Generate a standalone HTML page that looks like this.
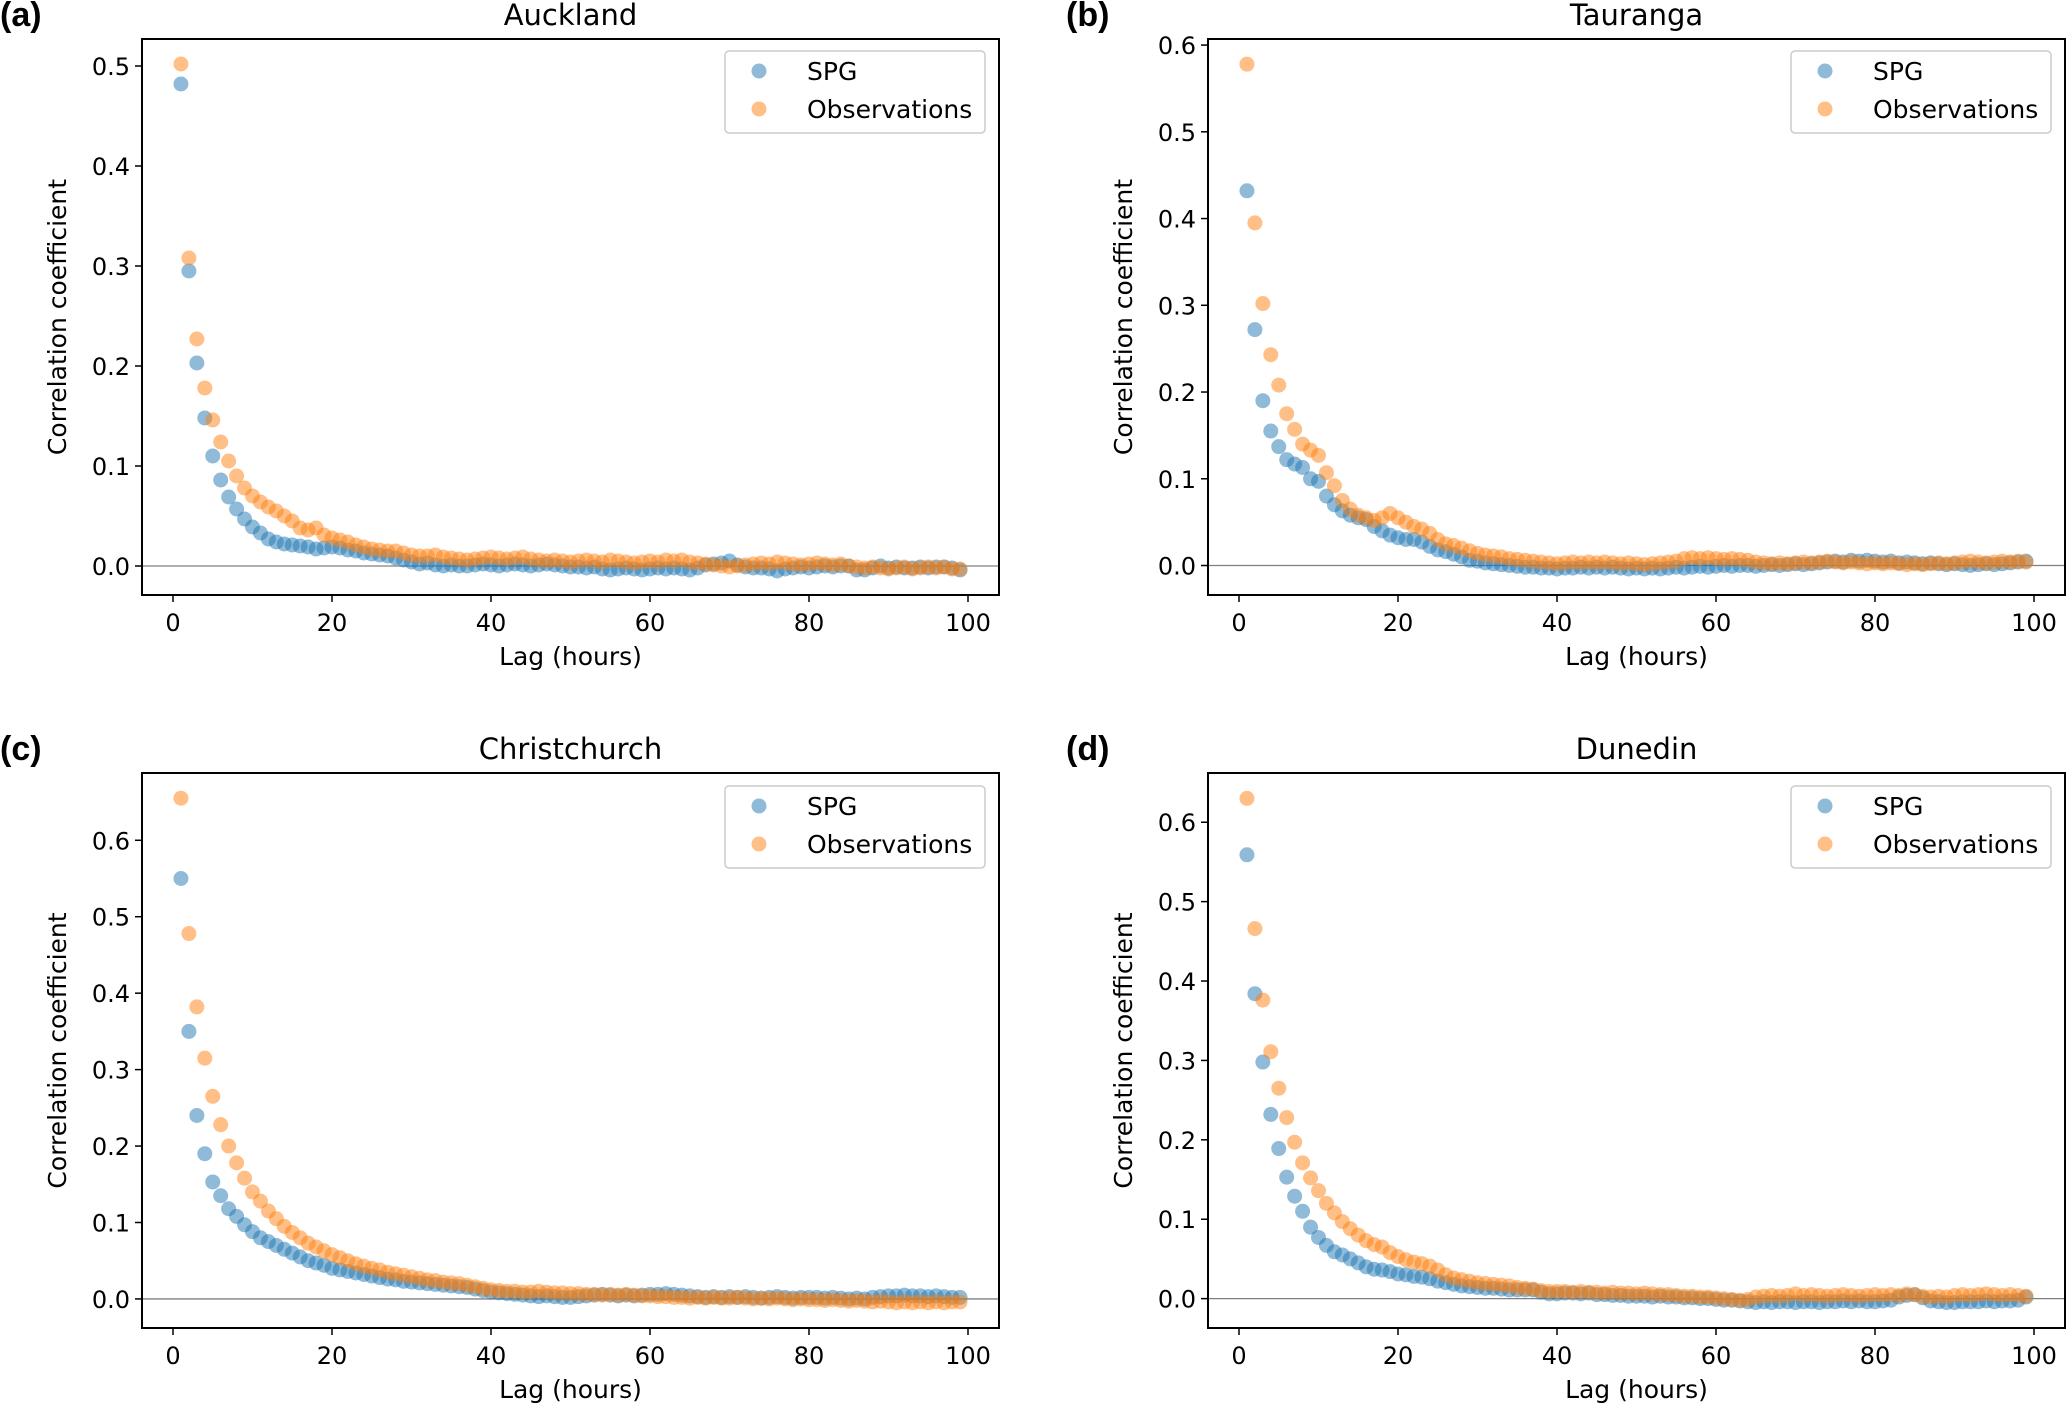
<!DOCTYPE html>
<html><head><meta charset="utf-8"><style>
html,body{margin:0;padding:0;background:#fff;}
svg{display:block;font-family:"DejaVu Sans","Liberation Sans",sans-serif;}
</style></head><body>
<svg id="fig" width="2067" height="1407" viewBox="0 0 2067 1407"></svg>
<script>
const lags = Array.from({length:99},(_,i)=>i+1);
const xTicks = [0,20,40,60,80,100];
const yTicksA = [0,0.1,0.2,0.3,0.4,0.5];
const yTicksB = [0,0.1,0.2,0.3,0.4,0.5,0.6];
const titles = ["Auckland","Tauranga","Christchurch","Dunedin"];
const panelLabels = ["(a)","(b)","(c)","(d)"];
const seriesNames = ["SPG","Observations"];
const spgA = [0.482,0.295,0.203,0.148,0.110,0.086,0.069,0.057,0.047,0.039,0.033,0.027,0.024,0.022,0.021,0.020,0.019,0.017,0.018,0.019,0.018,0.016,0.015,0.013,0.012,0.011,0.010,0.008,0.006,0.004,0.002,
0.003,0.001,0.000,0.001,0.000,0.000,0.001,0.002,0.001,0.000,0.001,0.002,0.001,0.000,0.001,0.002,0.001,0.000,-0.001,
-0.001,-0.002,-0.001,-0.003,-0.004,-0.003,-0.002,-0.003,-0.004,-0.003,-0.002,-0.003,-0.002,-0.003,-0.004,-0.002,0.001,0.002,0.003,0.005,
0.001,-0.001,-0.002,-0.002,-0.003,-0.005,-0.003,-0.002,-0.001,-0.002,-0.001,0.000,-0.001,0.000,0.000,
-0.004,-0.004,-0.002,0.000,-0.002,-0.001,-0.002,-0.002,-0.001,-0.002,-0.001,-0.001,-0.002,-0.004];
const obsA = [0.502,0.308,0.227,0.178,0.146,0.124,0.105,0.090,0.078,0.070,0.064,0.059,0.055,0.050,0.045,0.038,0.036,0.038,0.031,0.028,0.026,0.024,0.021,0.019,0.017,0.016,0.015,0.015,0.013,0.011,0.010,0.010,0.011,0.009,0.008,0.007,
0.006,0.007,0.008,0.009,0.008,0.007,0.008,0.009,0.007,0.006,0.005,0.006,0.005,0.004,
0.005,0.006,0.005,0.004,0.006,0.005,0.004,0.003,0.004,0.005,0.004,0.006,0.005,0.006,0.004,0.003,
0.002,0.001,0.000,-0.001,0.000,0.001,0.002,0.003,0.002,0.004,0.003,0.002,0.001,0.002,0.003,0.002,0.001,0.002,0.000,
-0.001,-0.002,-0.001,-0.002,-0.003,-0.002,-0.001,-0.003,-0.002,-0.001,-0.002,-0.001,-0.003,-0.003];
const spgB = [0.432,0.272,0.190,0.155,0.137,0.122,0.117,0.113,0.100,0.097,0.080,0.070,0.063,0.058,0.055,0.053,0.045,0.040,0.035,0.032,0.030,0.030,0.027,0.022,0.018,0.016,0.013,0.010,0.006,0.005,
0.003,0.002,0.001,0.000,-0.001,-0.002,-0.002,-0.003,-0.003,-0.004,-0.003,-0.003,-0.002,-0.003,-0.002,-0.003,-0.002,-0.003,-0.004,-0.003,-0.004,-0.003,-0.004,-0.003,-0.002,-0.003,-0.002,-0.001,-0.002,-0.001,
0.000,-0.001,0.000,0.000,-0.001,0.000,0.001,0.000,0.001,0.002,0.001,0.002,0.003,0.004,0.005,0.004,0.006,0.005,0.006,0.005,
0.004,0.005,0.003,0.004,0.003,0.002,0.003,0.002,0.001,0.002,0.001,0.000,0.001,0.002,0.001,0.002,0.003,0.004,0.005];
const obsB = [0.578,0.395,0.302,0.243,0.208,0.175,0.157,0.140,0.133,0.127,0.107,0.092,0.075,0.065,0.058,0.055,0.052,0.055,0.060,0.055,0.050,0.045,0.042,0.037,0.030,0.025,0.023,0.020,0.017,0.014,0.012,0.011,0.010,0.008,0.007,
0.006,0.005,0.004,0.003,0.002,0.003,0.004,0.003,0.004,0.003,0.004,0.003,0.002,0.003,0.002,0.001,0.002,0.003,0.004,0.005,
0.008,0.009,0.008,0.009,0.008,0.007,0.008,0.007,0.006,0.004,
0.003,0.002,0.003,0.002,0.003,0.004,0.003,0.004,0.005,0.004,0.003,0.004,0.003,0.002,0.003,0.002,0.003,0.002,0.001,0.002,0.001,0.002,0.003,0.002,0.003,0.004,0.005,0.004,0.003,0.004,0.005,0.004,0.005,0.004];
const spgC = [0.550,0.350,0.240,0.190,0.153,0.135,0.118,0.108,0.097,0.088,0.080,0.075,0.070,0.065,0.060,0.055,0.050,0.047,0.044,0.040,0.038,0.036,0.034,0.032,0.030,0.028,0.026,0.025,0.023,0.022,0.021,0.020,0.019,0.018,0.017,0.016,0.015,0.013,0.011,0.009,
0.008,0.007,0.006,0.005,0.004,0.003,0.004,0.003,0.002,0.002,0.003,0.004,0.005,0.006,0.005,0.004,0.005,0.004,0.005,0.006,
0.006,0.007,0.006,0.005,0.004,0.003,0.002,0.003,0.002,0.003,0.002,0.003,0.002,0.001,0.002,0.003,0.002,0.001,0.002,0.002,
0.002,0.001,0.002,0.001,0.000,0.001,0.000,0.002,0.003,0.004,0.004,0.005,0.004,0.004,0.003,0.004,0.003,0.002,0.002];
const obsC = [0.655,0.478,0.382,0.315,0.265,0.228,0.200,0.178,0.158,0.140,0.128,0.115,0.105,0.095,0.087,0.080,0.073,0.068,0.063,0.058,0.054,0.050,0.046,0.043,0.040,0.038,0.035,0.033,0.031,0.029,0.027,0.025,0.024,0.022,0.021,0.020,0.018,0.016,0.014,0.012,
0.011,0.010,0.010,0.009,0.009,0.010,0.009,0.008,0.008,0.007,0.007,0.006,0.006,0.005,0.006,0.005,0.006,0.005,0.004,0.004,
0.003,0.003,0.002,0.002,0.001,0.002,0.001,0.002,0.001,0.001,0.002,0.001,0.000,0.001,0.000,0.001,0.000,-0.001,0.000,-0.001,
-0.001,-0.002,-0.001,-0.002,-0.003,-0.002,-0.003,-0.004,-0.003,-0.004,-0.005,-0.004,-0.005,-0.004,-0.005,-0.004,-0.005,-0.004,-0.004];
const spgD = [0.559,0.384,0.298,0.232,0.189,0.153,0.129,0.110,0.090,0.077,0.067,0.059,0.055,0.050,0.045,0.040,0.037,0.036,0.034,0.031,0.030,0.028,0.027,0.025,0.022,0.020,0.018,0.016,0.015,0.014,0.013,0.013,0.012,0.011,0.011,0.011,0.011,0.008,0.006,0.006,
0.007,0.007,0.006,0.007,0.005,0.005,0.004,0.004,0.003,0.003,0.003,0.002,0.003,0.002,0.002,0.001,0.001,0.000,0.000,-0.001,
-0.002,-0.002,-0.003,-0.004,-0.005,-0.004,-0.005,-0.004,-0.004,-0.005,-0.004,-0.004,-0.005,-0.004,-0.004,-0.003,-0.004,-0.003,-0.004,-0.004,
-0.003,-0.002,0.002,0.004,0.005,0.001,-0.003,-0.004,-0.005,-0.005,-0.004,-0.004,-0.004,-0.003,-0.004,-0.003,-0.003,-0.002,0.002];
const obsD = [0.630,0.466,0.376,0.311,0.265,0.228,0.197,0.171,0.152,0.136,0.120,0.108,0.097,0.088,0.080,0.073,0.068,0.065,0.058,0.053,0.049,0.046,0.044,0.041,0.036,0.030,0.026,0.024,0.022,0.020,0.019,0.018,0.017,0.016,0.014,0.013,0.012,0.010,0.009,0.009,
0.009,0.008,0.009,0.008,0.008,0.007,0.008,0.007,0.007,0.006,0.007,0.006,0.005,0.005,0.004,0.003,0.003,0.002,0.002,0.001,
0.000,-0.001,-0.002,-0.001,0.002,0.003,0.004,0.003,0.004,0.006,0.004,0.005,0.004,0.003,0.004,0.005,0.004,0.003,0.004,0.005,
0.004,0.005,0.004,0.006,0.005,0.003,0.002,0.003,0.002,0.004,0.005,0.004,0.005,0.006,0.005,0.004,0.005,0.004,0.003];

const NS = "http://www.w3.org/2000/svg";
const svg = document.getElementById('fig');
function mk(tag, attrs, parent, text){
  const e = document.createElementNS(NS, tag);
  for (const k in attrs) e.setAttribute(k, attrs[k]);
  if (text !== undefined) e.textContent = text;
  (parent||svg).appendChild(e);
  return e;
}
const panels = [
  {L:142,R:999,T:39,B:595,ymin:-0.029,ymax:0.527,ticks:yTicksA,spg:spgA,obs:obsA,legY:51},
  {L:1208,R:2065,T:39,B:595,ymin:-0.034,ymax:0.607,ticks:yTicksB,spg:spgB,obs:obsB,legY:51},
  {L:142,R:999,T:773,B:1328,ymin:-0.038,ymax:0.688,ticks:yTicksB,spg:spgC,obs:obsC,legY:786},
  {L:1208,R:2065,T:773,B:1328,ymin:-0.037,ymax:0.662,ticks:yTicksB,spg:spgD,obs:obsD,legY:786}
];
const xmin=-3.9, xmax=103.9;
panels.forEach((p,i)=>{
  const g = mk('g',{});
  
  
  const xs = v => p.L + (v-xmin)/(xmax-xmin)*(p.R-p.L);
  const ys = v => p.B - (v-p.ymin)/(p.ymax-p.ymin)*(p.B-p.T);
  const cx=(p.L+p.R)/2, cy=(p.T+p.B)/2;
  const zl = mk('line',{x1:p.L,x2:p.R,y1:ys(0),y2:ys(0),stroke:'#808080','stroke-width':1.3},g);
  
  
  [[p.spg,'#1f77b4','spg'],[p.obs,'#ff7f0e','obs']].forEach(([arr,col,nm])=>{
    arr.forEach((v,k)=>{
      const c = mk('circle',{cx:xs(lags[k]),cy:ys(v),r:7.5,fill:col,'fill-opacity':0.5},g);
      
      
    });
  });
  const fr = mk('rect',{x:p.L,y:p.T,width:p.R-p.L,height:p.B-p.T,fill:'none',stroke:'#000','stroke-width':2},g);
  
  
  xTicks.forEach(t=>{
    mk('line',{x1:xs(t),x2:xs(t),y1:p.B,y2:p.B+7,stroke:'#000','stroke-width':1.5},g);
    const tl = mk('text',{x:xs(t),y:p.B+36,'text-anchor':'middle','font-size':24},g,String(t));
    
    
  });
  p.ticks.forEach(t=>{
    mk('line',{x1:p.L-7,x2:p.L,y1:ys(t),y2:ys(t),stroke:'#000','stroke-width':1.5},g);
    const tl = mk('text',{x:p.L-12,y:ys(t)+9,'text-anchor':'end','font-size':24},g,t.toFixed(1));
    
    
  });
  const xl = mk('text',{x:cx,y:p.B+70,'text-anchor':'middle','font-size':25},g,'Lag (hours)');
  
  
  const ylx = p.L-76;
  const yl = mk('text',{x:ylx,y:cy,'text-anchor':'middle','font-size':25,transform:`rotate(-90 ${ylx} ${cy})`},g,'Correlation coefficient');
  
  
  const tt = mk('text',{x:cx,y:p.T-14,'text-anchor':'middle','font-size':29},g,titles[i]);
  
  
  const pl = mk('text',{x:p.L-142,y:p.T-13,'font-size':34,'font-weight':'bold','font-family':'"Liberation Sans",sans-serif'},g,panelLabels[i]);
  
  
  const lg = mk('g',{},g);
  
  
  const lx = p.R-274;
  mk('rect',{x:lx,y:p.legY,width:260,height:82,rx:4,fill:'#fff','fill-opacity':0.8,stroke:'#cccccc','stroke-width':1.5},lg);
  [['#1f77b4',0],['#ff7f0e',1]].forEach(([col,j])=>{
    const ry = p.legY+20+j*38;
    const e = mk('g',{},lg);
    
    
    mk('circle',{cx:lx+34,cy:ry,r:7.5,fill:col,'fill-opacity':0.5},e);
    mk('text',{x:lx+82,y:ry+9,'font-size':25},e,seriesNames[j]);
  });
});
</script>
</body></html>
